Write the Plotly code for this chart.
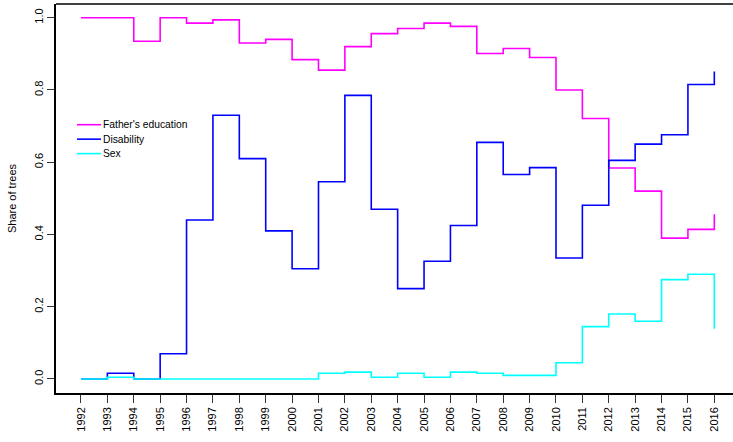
import plotly.graph_objects as go

years = list(range(1992, 2017))

fathers_education = [1.0, 1.0, 0.935, 1.0, 0.985, 0.994, 0.930, 0.940, 0.884, 0.855,
                     0.920, 0.956, 0.970, 0.985, 0.976, 0.901, 0.915, 0.890, 0.800, 0.721,
                     0.584, 0.520, 0.390, 0.414, 0.456]
disability = [0.0, 0.016, 0.0, 0.070, 0.440, 0.730, 0.610, 0.410, 0.305, 0.546,
              0.785, 0.470, 0.250, 0.326, 0.425, 0.655, 0.566, 0.585, 0.335, 0.481,
              0.605, 0.650, 0.676, 0.815, 0.851]
sex = [0.0, 0.005, 0.0, 0.0, 0.0, 0.0, 0.0, 0.0, 0.0, 0.016,
       0.019, 0.005, 0.016, 0.005, 0.019, 0.016, 0.010, 0.010, 0.045, 0.145,
       0.180, 0.160, 0.275, 0.290, 0.139]

series_names = ["Father's education", "Disability", "Sex"]
series_colors = ["#FF00FF", "#0000FF", "#00FFFF"]
y_ticks = [0.0, 0.2, 0.4, 0.6, 0.8, 1.0]
y_tick_labels = ["0.0", "0.2", "0.4", "0.6", "0.8", "1.0"]

FONT = "Liberation Sans, Arial, sans-serif"

fig = go.Figure()
for name, vals, col in zip(series_names, [fathers_education, disability, sex], series_colors):
    fig.add_trace(go.Scatter(x=years, y=vals, mode="lines", name=name,
                             line=dict(color=col, width=1.6, shape="hv"),
                             showlegend=False))

# manual legend (R style)
leg_y = [124, 138.5, 153]
for name, col, yy in zip(series_names, series_colors, leg_y):
    yp = (442 - yy - 49) / 390.0
    fig.add_shape(type="line", xref="paper", yref="paper",
                  x0=(77 - 56) / 677.0, x1=(101 - 56) / 677.0,
                  y0=yp, y1=yp, line=dict(color=col, width=1.6))
    fig.add_annotation(xref="paper", yref="paper",
                       x=(101 - 56) / 677.0, y=yp,
                       text=name, showarrow=False, xanchor="left", yanchor="middle",
                       font=dict(family=FONT, size=10.3, color="#000000"))

# top border of the plot box
fig.add_shape(type="line", xref="paper", yref="paper", x0=0, x1=1, y0=1, y1=1,
              line=dict(color="black", width=1.5))

fig.update_layout(
    width=733, height=442,
    margin=dict(l=56, r=0, t=4, b=49, autoexpand=False),
    paper_bgcolor="white", plot_bgcolor="white",
    font=dict(family=FONT, size=11, color="#000000"),
    xaxis=dict(range=[1991.053, 2016.708], tickmode="array", tickvals=years,
               ticktext=[str(y) for y in years], tickangle=-90, automargin=False,
               showgrid=False, zeroline=False, showline=True, linecolor="black",
               linewidth=1.5, ticks="outside", ticklen=8,
               tickcolor="#333333", tickwidth=1, tickfont=dict(size=11)),
    yaxis=dict(range=[-0.0388, 1.038], tickmode="array", tickvals=y_ticks,
               ticktext=y_tick_labels, tickangle=-90, automargin=False,
               showgrid=False, zeroline=False, showline=True, linecolor="black",
               linewidth=1.5, ticks="outside", ticklen=7, tickcolor="#333333",
               tickwidth=1, tickfont=dict(size=11),
               title=dict(text="Share of trees", font=dict(size=11), standoff=14)),
)

fig.write_html("out.html", config={"displayModeBar": False},
               post_script="document.body.style.margin='0';document.body.style.overflow='hidden';")
